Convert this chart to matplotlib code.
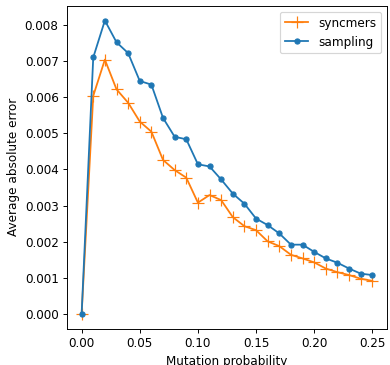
import matplotlib
matplotlib.use("Agg")
import matplotlib.pyplot as plt

# mutation probabilities 0.00 .. 0.25
mutation_prob = [0.00, 0.01, 0.02, 0.03, 0.04, 0.05, 0.06, 0.07, 0.08, 0.09,
                 0.10, 0.11, 0.12, 0.13, 0.14, 0.15, 0.16, 0.17, 0.18, 0.19,
                 0.20, 0.21, 0.22, 0.23, 0.24, 0.25]

# average absolute error
syncmers = [0.0, 0.00603, 0.00703, 0.00621, 0.00584, 0.00532, 0.00504, 0.00426,
            0.00398, 0.00377, 0.00308, 0.00329, 0.00315, 0.00268, 0.00243,
            0.00232, 0.00201, 0.00188, 0.00164, 0.00154, 0.00143, 0.00126,
            0.00116, 0.00108, 0.00098, 0.00092]
sampling = [0.0, 0.00709, 0.00811, 0.00751, 0.00721, 0.00644, 0.00634, 0.00542,
            0.00490, 0.00483, 0.00414, 0.00408, 0.00372, 0.00333, 0.00305,
            0.00264, 0.00246, 0.00223, 0.00192, 0.00192, 0.00172, 0.00154,
            0.00142, 0.00126, 0.00112, 0.00108]

dpi = 86
fig = plt.figure(figsize=(390 / dpi, 365 / dpi), dpi=dpi)
ax = fig.add_axes([0.172, 0.099, 0.820, 0.885])

ax.plot(mutation_prob, syncmers, color='C1', marker='+', markersize=9.5, label='syncmers')
ax.plot(mutation_prob, sampling, color='C0', marker='.', markersize=8.5, label='sampling')

ax.set_xlabel("Mutation probability")
ax.set_ylabel("Average absolute error")
ax.set_xticks([0.0, 0.05, 0.10, 0.15, 0.20, 0.25])
ax.legend(loc='upper right')

fig.savefig("out.png", dpi=dpi)
